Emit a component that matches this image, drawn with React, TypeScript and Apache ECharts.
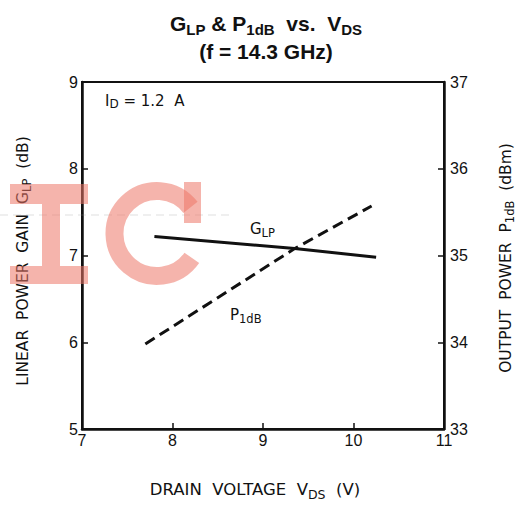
import React, { useEffect, useRef } from "react";
import * as echarts from "echarts";

// Data
const xTicks = [7, 8, 9, 10, 11];
const gainTicks = [5, 6, 7, 8, 9];
const powerTicks = [33, 34, 35, 36, 37];
const glpVds = [7.8, 9.35, 10.25];
const glpGain = [7.22, 7.08, 6.98];
const p1dbVds = [7.7, 9.35, 10.2];
const p1dbPower = [33.98, 35.08, 35.57];

type Piece = { t: string; size: number; dy: number };

export default function App() {
  const ref = useRef<HTMLDivElement>(null);
  useEffect(() => {
    const chart = echarts.init(ref.current!, null, { renderer: "svg" });
    const font = "Liberation Sans";
    const nameFont = "DejaVu Sans";
    const ink = "#111";
    const pink = "rgba(236,118,104,0.55)";
    const ctx = document.createElement("canvas").getContext("2d")!;
    const measure = (t: string, size: number, weight: string, family: string) => {
      ctx.font = `${weight} ${size}px "${family}"`;
      return ctx.measureText(t).width;
    };
    // text with subscripts, built from pieces placed side by side
    const sub = (
      pieces: Piece[], cx: number, cy: number,
      opt: { align?: "center" | "left"; rotation?: number; family?: string; weight?: string } = {}
    ) => {
      const family = opt.family || nameFont;
      const weight = opt.weight || "normal";
      const widths = pieces.map((p) => measure(p.t, p.size, weight, family));
      const total = widths.reduce((a, b) => a + b, 0);
      let x0 = opt.align === "left" ? 0 : -total / 2;
      const children = pieces.map((p, i) => {
        const el = {
          type: "text",
          x: x0,
          y: p.dy,
          style: {
            text: p.t, fontSize: p.size, fontFamily: family, fontWeight: weight,
            fill: ink, align: "left", verticalAlign: "middle",
          },
        };
        x0 += widths[i];
        return el;
      });
      return { type: "group", x: cx, y: cy, rotation: opt.rotation || 0, children };
    };
    const axisCommon = {
      type: "value",
      axisLine: { show: true, lineStyle: { color: ink, width: 2.5 } },
      axisTick: { show: true, inside: true, length: 6, lineStyle: { color: ink, width: 1.5 } },
      splitLine: { show: false },
      axisLabel: { color: ink, fontSize: 16, fontFamily: font },
    };
    chart.setOption({
      animation: false,
      backgroundColor: "#fff",
      grid: {
        left: 82, right: 74, top: 82, bottom: 86,
        show: true, borderColor: ink, borderWidth: 2, backgroundColor: "transparent",
      },
      xAxis: {
        ...axisCommon,
        min: xTicks[0], max: xTicks[xTicks.length - 1], interval: 1,
        axisLabel: { ...axisCommon.axisLabel, margin: 3 },
      },
      yAxis: [
        {
          ...axisCommon,
          position: "left",
          min: gainTicks[0], max: gainTicks[gainTicks.length - 1], interval: 1,
          axisLabel: { ...axisCommon.axisLabel, margin: 4 },
        },
        {
          ...axisCommon,
          position: "right",
          min: powerTicks[0], max: powerTicks[powerTicks.length - 1], interval: 1,
          axisLabel: { ...axisCommon.axisLabel, margin: 6 },
        },
      ],
      series: [
        {
          name: "GLP",
          type: "line",
          yAxisIndex: 0,
          symbol: "none",
          data: glpVds.map((v, i) => [v, glpGain[i]]),
          lineStyle: { color: ink, width: 3 },
        },
        {
          name: "P1dB",
          type: "line",
          yAxisIndex: 1,
          symbol: "none",
          data: p1dbVds.map((v, i) => [v, p1dbPower[i]]),
          lineStyle: { color: ink, width: 3, type: [11, 6] },
        },
      ],
      graphic: [
        // title
        sub(
          [
            { t: "G", size: 21, dy: 0 },
            { t: "LP", size: 15, dy: 6 },
            { t: " & P", size: 21, dy: 0 },
            { t: "1dB", size: 15, dy: 6 },
            { t: "  vs.  V", size: 21, dy: 0 },
            { t: "DS", size: 15, dy: 6 },
          ],
          266, 23.5, { family: font, weight: "bold" }
        ),
        sub([{ t: "(f = 14.3 GHz)", size: 21, dy: 0 }], 266, 51, { family: font, weight: "bold" }),
        // axis names
        sub(
          [
            { t: "DRAIN  VOLTAGE  V", size: 16.5, dy: 0 },
            { t: "DS", size: 12.5, dy: 5 },
            { t: "  (V)", size: 16.5, dy: 0 },
          ],
          255, 489
        ),
        sub(
          [
            { t: "LINEAR  POWER  GAIN  G", size: 15.5, dy: 0 },
            { t: "LP", size: 11.5, dy: 4 },
            { t: "  (dB)", size: 15.5, dy: 0 },
          ],
          23, 261, { rotation: Math.PI / 2 }
        ),
        sub(
          [
            { t: "OUTPUT  POWER  P", size: 15.5, dy: 0 },
            { t: "1dB", size: 11.5, dy: 4 },
            { t: "  (dBm)", size: 15.5, dy: 0 },
          ],
          506, 258, { rotation: Math.PI / 2 }
        ),
        // in-plot annotations
        sub(
          [
            { t: "I", size: 15, dy: 0 },
            { t: "D", size: 12, dy: 3 },
            { t: " = 1.2  A", size: 15, dy: 0 },
          ],
          105, 101, { align: "left" }
        ),
        sub(
          [
            { t: "G", size: 15, dy: 0 },
            { t: "LP", size: 11.5, dy: 3.5 },
          ],
          250, 229, { align: "left" }
        ),
        sub(
          [
            { t: "P", size: 15, dy: 0 },
            { t: "1dB", size: 11.5, dy: 3.5 },
          ],
          230, 315, { align: "left" }
        ),
        // watermark
        {
          type: "line",
          z: 90,
          shape: { x1: 0, y1: 215, x2: 234, y2: 215 },
          style: { stroke: "rgba(150,150,150,0.3)", lineWidth: 1, lineDash: [8, 5] },
        },
        { type: "rect", z: 100, shape: { x: 10, y: 184, width: 78, height: 20 }, style: { fill: pink } },
        { type: "rect", z: 100, shape: { x: 42, y: 204, width: 18, height: 62 }, style: { fill: pink } },
        { type: "rect", z: 100, shape: { x: 10, y: 266, width: 78, height: 18 }, style: { fill: pink } },
        {
          type: "arc",
          z: 100,
          shape: { cx: 157, cy: 233.5, r: 42.5, startAngle: (35 * Math.PI) / 180, endAngle: (322 * Math.PI) / 180, clockwise: true },
          style: { stroke: pink, lineWidth: 18, fill: "none", lineCap: "butt" },
        },
        { type: "rect", z: 100, shape: { x: 184, y: 182, width: 17, height: 41 }, style: { fill: pink } },
      ],
    });
    return () => chart.dispose();
  }, []);
  return (
    <div
      ref={ref}
      style={{ position: "fixed", left: 0, top: 0, width: 518, height: 515, background: "#fff" }}
    />
  );
}
